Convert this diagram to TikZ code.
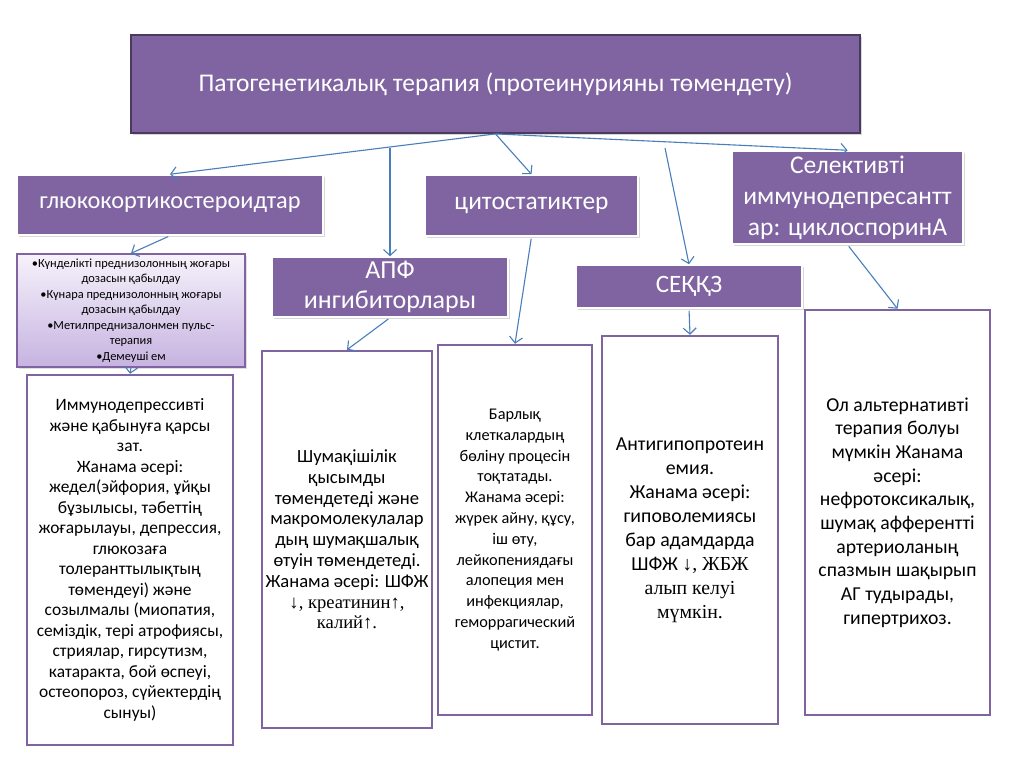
\documentclass[tikz,border=0pt]{standalone}
\usepackage{fontspec}
\setmainfont{Carlito}
\newfontfamily\tnr{Liberation Serif}
\usetikzlibrary{arrows.meta,shadows}
\definecolor{purp}{HTML}{8064A2}
\definecolor{purpdark}{HTML}{4A3A5E}
\definecolor{arr}{HTML}{4A7EBB}
\definecolor{lav}{HTML}{C6B3E0}
\definecolor{lavtop}{HTML}{F6F2FB}
\newcommand\fsz[2]{\fontsize{#1pt}{#2pt}\selectfont}
\begin{document}
\begin{tikzpicture}[x=1pt,y=-1pt,
  pbox/.style={fill=purp, draw=white, line width=1.5pt, text=white, align=center, inner sep=0pt,
    drop shadow={shadow xshift=2pt, shadow yshift=-2pt, opacity=0.3}},
  wbox/.style={fill=white, draw=purp, line width=2.5pt, align=center, inner sep=0pt, text=black},
  conn/.style={draw=arr, line width=1.1pt, -{Straight Barb[length=6pt,width=13pt]}}]
\useasboundingbox (0,0) rectangle (1024,767);
\fill[white] (0,0) rectangle (1024,767);

% top box
\node[fill=purp, draw=purpdark, line width=1.8pt, text=white, inner sep=0pt,
  minimum width=729pt, minimum height=98pt, font=\fsz{25.5}{30},
  drop shadow={shadow xshift=2pt, shadow yshift=-2pt, opacity=0.3}]
  (top) at (495.5,84) {Патогенетикалық терапия (протеинурияны төмендету)};

% second level
\node[pbox, minimum width=306pt, minimum height=60pt, font=\fsz{24.3}{29}]
  (gluco) at (170,205) {глюкокортикостероидтар};
\node[pbox, minimum width=213pt, minimum height=61pt, font=\fsz{25.4}{30}]
  (cyto) at (531.5,205.5) {цитостатиктер};
\node[pbox, minimum width=231pt, minimum height=93pt, font=\fsz{25.5}{31}]
  (sel) at (847.5,197.5) {Селективті\\иммунодепресантт\\ар: циклоспоринА};
\node[pbox, minimum width=236pt, minimum height=60pt, font=\fsz{26}{30.5}]
  (apf) at (390,287) {АПФ\\ингибиторлары};
\node[pbox, minimum width=226pt, minimum height=43pt, font=\fsz{25}{29}]
  (seq) at (689,286.5) {СЕҚҚЗ};

% bullet box
\node[draw=purp, line width=1.3pt, top color=lavtop, bottom color=lav, align=center, inner sep=0pt,
  minimum width=228pt, minimum height=113pt, font=\fsz{12.4}{15.5},
  drop shadow={shadow xshift=2pt, shadow yshift=-2pt, opacity=0.25}]
  (bul) at (131,310.5) {•Күнделікті преднизолонның жоғары\\дозасын қабылдау\\•Күнара преднизолонның жоғары\\дозасын қабылдау\\•Метилпреднизалонмен пульс-\\терапия\\•Демеуші ем};

% white boxes
\node[wbox, minimum width=206pt, minimum height=370pt, font=\fsz{17.4}{20.5}]
  (b1) at (130,560) {Иммунодепрессивті\\және қабынуға қарсы\\зат.\\Жанама әсері:\\жедел(эйфория, ұйқы\\бұзылысы, тәбеттің\\жоғарылауы, депрессия,\\глюкозаға\\толеранттылықтың\\төмендеуі) және\\созылмалы (миопатия,\\семіздік, тері атрофиясы,\\стриялар, гирсутизм,\\катаракта, бой өспеуі,\\остеопороз, сүйектердің\\сынуы)};
\node[wbox, minimum width=170pt, minimum height=377pt, font=\fsz{18.6}{20.8}]
  (b2) at (347,539.5) {Шумақішілік\\қысымды\\төмендетеді және\\макромолекулалар\\дың шумақшалық\\өтуін төмендетеді.\\Жанама әсері: ШФЖ\\{\tnr ↓, креатинин↑,}\\{\tnr калий↑.}};
\node[wbox, minimum width=154pt, minimum height=370pt, font=\fsz{16.3}{20.8}]
  (b3) at (515,530) {Барлық\\клеткалардың\\бөліну процесін\\тоқтатады.\\Жанама әсері:\\жүрек айну, құсу,\\іш өту,\\лейкопениядағы\\алопеция мен\\инфекциялар,\\геморрагический\\цистит.};
\node[wbox, minimum width=176pt, minimum height=388pt, font=\fsz{19.8}{24}]
  (b4) at (690,530) {Антигипопротеин\\емия.\\Жанама әсері:\\гиповолемиясы\\бар адамдарда\\ШФЖ {\tnr ↓, ЖБЖ}\\{\tnr алып келуі}\\{\tnr мүмкін.}};
\node[wbox, minimum width=185pt, minimum height=405pt, font=\fsz{19.7}{23.7}]
  (b5) at (897.5,512.5) {Ол альтернативті\\терапия болуы\\мүмкін Жанама\\әсері:\\нефротоксикалық,\\шумақ афферентті\\артериоланың\\спазмын шақырып\\АГ тудырады,\\гипертрихоз.};

% free starts
\coordinate (a0) at (390,148);
\coordinate (s0) at (665,148);

% connectors
\draw[conn] (top.south) -- (gluco.north);
\draw[conn] (a0) -- (apf.north);
\draw[conn] (top.south) -- (cyto.north);
\draw[conn] (s0) -- (seq.north);
\draw[conn] (top.south) -- (sel.north);
\draw[conn, shorten <=2pt] (gluco.south) -- (bul.north);
\draw[conn] (bul.south) -- (b1.north);
\draw[conn, shorten <=2pt] (apf.south) -- (b2.north);
\draw[conn, shorten <=2pt] (cyto.south) -- (b3.north);
\draw[conn, shorten <=2pt] (seq.south) -- (b4.north);
\draw[conn, shorten <=2pt] (sel.south) -- (b5.north);
\end{tikzpicture}
\end{document}
